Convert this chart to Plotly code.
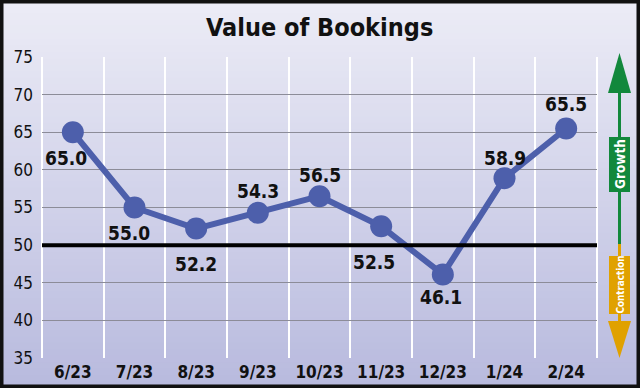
import plotly.graph_objects as go

months = ["6/23", "7/23", "8/23", "9/23", "10/23", "11/23", "12/23", "1/24", "2/24"]
values = [65.0, 55.0, 52.2, 54.3, 56.5, 52.5, 46.1, 58.9, 65.5]
y_ticks = [35, 40, 45, 50, 55, 60, 65, 70, 75]
title = "Value of Bookings"

# label offsets in pixels (dx, dy) -- style only
label_offsets = [(-7, -26), (-6, -25), (0, -35), (0, 22), (0, 21), (-7, -36), (-2, -23), (0, 20), (0, 24)]

FONT = "DejaVu Sans Condensed, Liberation Sans Narrow, sans-serif"
W, H = 640, 388
ML, MR, MT, MB = 42, 43, 57, 30
PW, PH = W - ML - MR, H - MT - MB

def px(x):
    return (x - ML) / PW

def py(y):
    return (H - MB - y) / PH

fig = go.Figure()
fig.add_trace(go.Scatter(
    x=months, y=values, mode="lines+markers",
    line=dict(color="#4d5fab", width=6),
    marker=dict(color="#4d5fab", size=22),
    hoverinfo="skip", showlegend=False,
))

shapes = []
# gradient background
n = 60
top = (236, 236, 246)
bot = (184, 186, 222)
for i in range(n):
    t = i / (n - 1)
    c = tuple(int(round(top[k] + (bot[k] - top[k]) * t)) for k in range(3))
    y0 = i * H / n
    y1 = (i + 1) * H / n + 1
    shapes.append(dict(type="rect", xref="paper", yref="paper",
                       x0=px(0), x1=px(W), y0=py(y1), y1=py(y0),
                       fillcolor="rgb(%d,%d,%d)" % c, line=dict(width=0), layer="below"))
# outer vertical white grid edges
for xe in (0, 1):
    shapes.append(dict(type="line", xref="paper", yref="paper", x0=xe, x1=xe, y0=0, y1=1,
                       line=dict(color="white", width=2), layer="below"))
# 50 line
shapes.append(dict(type="line", xref="paper", yref="y", x0=0, x1=1, y0=50, y1=50,
                   line=dict(color="black", width=4), layer="above"))

# right arrows
ax = px(619.5)
green = "#12883c"
orange = "#e0a100"
shapes.append(dict(type="line", xref="paper", yref="paper", x0=ax, x1=ax, y0=py(93), y1=py(244),
                   line=dict(color=green, width=3)))
shapes.append(dict(type="path", xref="paper", yref="paper",
                   path="M %f,%f L %f,%f L %f,%f Z" % (px(608), py(93), px(631), py(93), ax, py(53)),
                   fillcolor=green, line=dict(width=0)))
shapes.append(dict(type="rect", xref="paper", yref="paper", x0=px(609), x1=px(630), y0=py(192), y1=py(137),
                   fillcolor=green, line=dict(width=0)))
shapes.append(dict(type="line", xref="paper", yref="paper", x0=ax, x1=ax, y0=py(244), y1=py(322),
                   line=dict(color=orange, width=3)))
shapes.append(dict(type="path", xref="paper", yref="paper",
                   path="M %f,%f L %f,%f L %f,%f Z" % (px(608), py(321), px(631), py(321), ax, py(358)),
                   fillcolor=orange, line=dict(width=0)))
shapes.append(dict(type="rect", xref="paper", yref="paper", x0=px(609), x1=px(630), y0=py(314), y1=py(256),
                   fillcolor=orange, line=dict(width=0)))
# outer border
shapes.append(dict(type="rect", xref="paper", yref="paper", x0=px(1.5), x1=px(W - 1.5), y0=py(H - 1.5), y1=py(1.5),
                   line=dict(color="#111111", width=4), fillcolor="rgba(0,0,0,0)"))

annotations = []
for i, (m, v) in enumerate(zip(months, values)):
    dx, dy = label_offsets[i]
    annotations.append(dict(x=m, y=v, xref="x", yref="y", text="<b>%.1f</b>" % v, showarrow=False,
                            xshift=dx, yshift=dy, xanchor="center", yanchor="middle",
                            font=dict(family=FONT, size=19, color="#111111")))
annotations.append(dict(x=0.5, y=py(27), xref="paper", yref="paper", text="<b>" + title + "</b>",
                        showarrow=False, xanchor="center", yanchor="middle",
                        font=dict(family=FONT, size=25, color="#111111")))
annotations.append(dict(x=ax, y=py(164.5), xref="paper", yref="paper", text="<b>Growth</b>", textangle=-90,
                        showarrow=False, xanchor="center", yanchor="middle",
                        font=dict(family=FONT, size=13.5, color="white")))
annotations.append(dict(x=ax, y=py(285), xref="paper", yref="paper", text="<b>Contraction</b>", textangle=-90,
                        showarrow=False, xanchor="center", yanchor="middle",
                        font=dict(family=FONT, size=9.8, color="white")))

fig.update_layout(
    width=W, height=H,
    margin=dict(l=ML, r=MR, t=MT, b=MB, pad=0, autoexpand=False),
    paper_bgcolor="rgba(0,0,0,0)", plot_bgcolor="rgba(0,0,0,0)",
    shapes=shapes, annotations=annotations,
    xaxis=dict(type="category", tickson="boundaries", showgrid=True, gridcolor="white", gridwidth=2,
               ticks="", showline=False, zeroline=False, range=[-0.5, 8.5], automargin=False,
               tickfont=dict(family=FONT, size=17, color="#111111", weight="bold"), ticklabelstandoff=2),
    yaxis=dict(range=[35, 75], tickvals=y_ticks, showgrid=True, gridcolor="#8c8c98", gridwidth=1,
               ticks="", showline=False, zeroline=False, automargin=False,
               tickfont=dict(family=FONT, size=17, color="#111111"), ticklabelstandoff=8),
)

fig.write_html("out.html", config={"displayModeBar": False},
               post_script="document.body.style.margin='0';document.body.style.overflow='hidden';")
